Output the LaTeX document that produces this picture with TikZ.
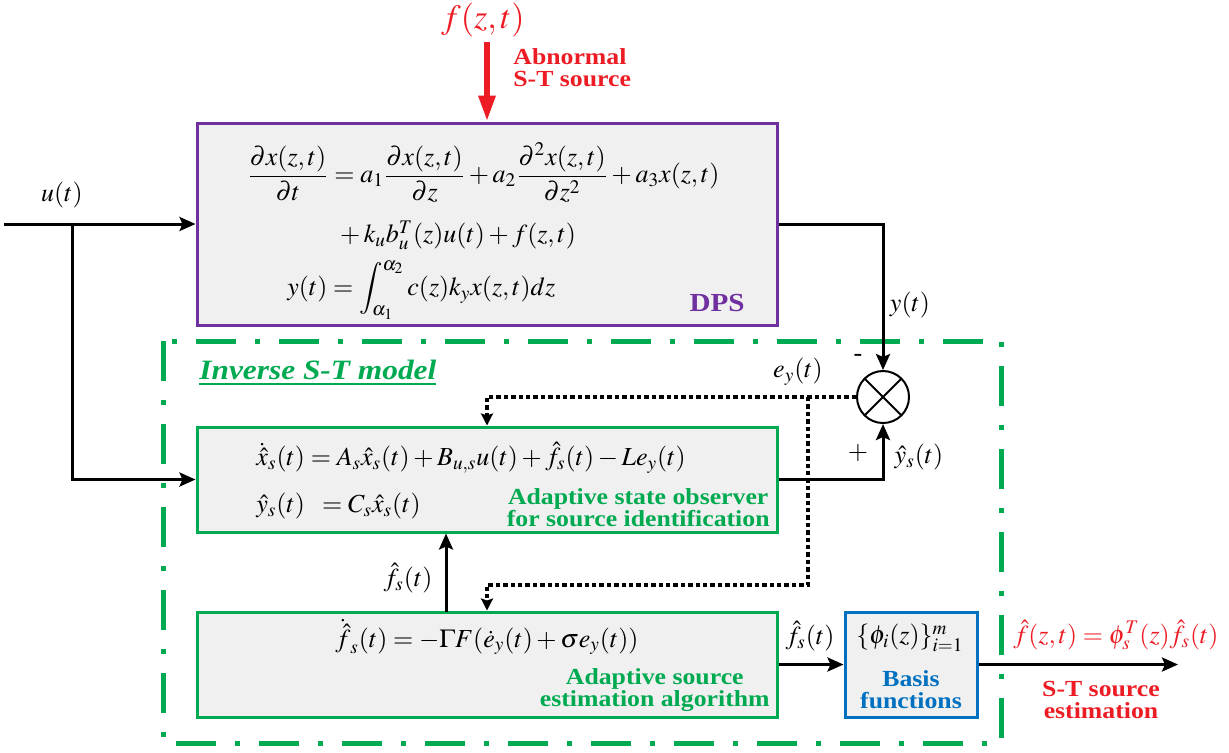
\documentclass[tikz,border=0pt]{standalone}
\usepackage{mathptmx}
\usepackage[no-math]{fontspec}
\setmainfont{Liberation Serif}
\newfontfamily\labelfont[FakeStretch=1.12]{Liberation Serif}
\usetikzlibrary{arrows.meta}
\usetikzlibrary{calc}
\usepackage{xcolor}

\definecolor{dpspurple}{RGB}{112,48,160}
\definecolor{obsgreen}{RGB}{0,170,80}
\definecolor{basisblue}{RGB}{0,112,192}
\definecolor{srcred}{RGB}{237,28,36}
\definecolor{boxgray}{RGB}{240,240,240}

\newcommand{\eqfs}{\fontsize{13}{16}\selectfont}
\newcommand{\labfs}{\labelfont\bfseries\fontsize{11.5}{11}\selectfont}
\newcommand{\topfs}{\fontsize{17}{20}\selectfont}

\begin{document}
\begin{tikzpicture}[x=0.5pt, y=-0.5pt]
        % ================= styles =================
        \tikzset{
            % system blocks
            dpsbox/.style={draw=dpspurple, line width=1.5pt, fill=boxgray, minimum width=290pt, minimum height=101pt, inner sep=0pt},
            obsbox/.style={draw=obsgreen, line width=1.5pt, fill=boxgray, minimum width=290pt, minimum height=52.5pt, inner sep=0pt},
            basisbox/.style={draw=basisblue, line width=1.5pt, fill=boxgray, minimum width=66pt, minimum height=52.5pt, inner sep=0pt},
            % summing junction
            sumnode/.style={circle, draw, line width=1pt, minimum size=26pt, inner sep=0pt,
                path picture={\draw[line width=1pt] (path picture bounding box.north west) -- (path picture bounding box.south east)
                    (path picture bounding box.north east) -- (path picture bounding box.south west);}},
            % dash-dot frame of the inverse model
            modelframe/.style={draw=obsgreen, line width=2.5pt, dash pattern=on 20pt off 9.5pt on 2.5pt off 9.5pt},
            % signals
            sig/.style={line width=1.5pt, -{Stealth[length=8pt, width=7pt, inset=1.5pt]}},
            err/.style={line width=1.6pt, dash pattern=on 2.2pt off 1.5pt, -{Stealth[length=6pt, width=6pt, inset=1pt]}},
            src/.style={draw=srcred, line width=3pt, -{Triangle[length=13pt, width=8pt]}},
            % texts
            eqn/.style={font=\eqfs, inner sep=0pt, anchor=west},
            mlab/.style={font=\eqfs, inner sep=0pt},
            lab/.style={font=\labfs, inner sep=0pt, align=center}
        }
        \useasboundingbox (0,0) rectangle (1229,752);

        % ================= frame of the inverse model =================
        \draw[modelframe] (163,341) rectangle (1001,743);

        % ================= blocks =================
        \node[dpsbox] (dps) at (487,224) {};
        \node[obsbox] (obs) at (487,479.5) {};
        \node[obsbox] (est) at (487,664.5) {};
        \node[basisbox] (basis) at (911,664.5) {};
        \node[sumnode] (sum) at (883,397) {};

        % ================= equations =================
        \node[eqn] (dpseq1) at (247,173) {$\displaystyle \frac{\partial x(z,t)}{\partial t}=a_1\frac{\partial x(z,t)}{\partial z}+a_2\frac{\partial^2 x(z,t)}{\partial z^2}+a_3x(z,t)$};
        \node[eqn] (dpseq2) at (336,235) {${}+k_u b_u^T(z)u(t)+f(z,t)$};
        \node[eqn] (dpseq3) at (287,290) {$\displaystyle y(t)=\int_{\alpha_1}^{\alpha_2}c(z)k_y x(z,t)dz$};

        \node[eqn] (obseq1) at (256,458) {$\dot{\hat x}_s(t)=A_s\hat x_s(t)+B_{u,s}u(t)+\hat f_s(t)-Le_y(t)$};
        \node[eqn] (obseq2) at (256,506) {$\hat y_s(t)\;\;=C_s\hat x_s(t)$};

        \node[mlab] (esteq) at (487,637) {$\dot{\hat f}_s(t)=-\Gamma F(\dot e_y(t)+\sigma e_y(t))$};

        \node[mlab] (philab) at (910,638) {$\{\phi_i(z)\}_{i=1}^m$};

        % ================= block names =================
        \node[lab, text=dpspurple, font=\labelfont\bfseries\fontsize{13}{13}\selectfont, anchor=east] (dpslab) at (745,303) {DPS};
        \node[lab, text=obsgreen, anchor=east] (obslab) at (770,508) {Adaptive state observer\\for source identification};
        \node[lab, text=obsgreen, anchor=east] (estlab) at (770,690) {Adaptive source\\estimation algorithm};
        \node[lab, text=basisblue] (basislab) at (911,690) {Basis\\functions};
        \node[anchor=west, inner sep=0pt, text=obsgreen, font=\labelfont\bfseries\itshape\fontsize{14}{14}\selectfont] (invlab) at (199,373) {\underline{Inverse S-T model}};

        % ================= connectors =================
        \coordinate (uin) at (4,224);
        \coordinate (ubr) at (72,224);
        \coordinate (ebr) at (808,397);
        \coordinate (eturn) at (808,585);
        \coordinate (fhbase) at (446,612);
        \coordinate (fout) at (1178,664.5);
        \coordinate (ftop) at (487,42);

        \draw[sig] (uin) -- (dps.west);
        \draw[sig] (ubr) |- (obs.west);
        \draw[sig] (dps.east) -| (sum.north);
        \draw[sig] (obs.east) -| (sum.south);
        \draw[err] (sum.west) -| (obs.north);
        \draw[err] (ebr) -- (eturn) -| (est.north);
        \draw[sig] (fhbase) -- (fhbase |- obs.south);
        \draw[sig] (est.east) -- (basis.west);
        \draw[sig] (basis.east) -- (fout);
        \draw[src] (ftop) -- (dps.north);

        % ================= signal labels =================
        \node[mlab] (ulab) at (62,195) {$u(t)$};
        \node[mlab] (ylab) at (910,305) {$y(t)$};
        \node[mlab] (minus) at (858,358) {-};
        \node[mlab] (plus) at (858,453) {$+$};
        \node[mlab] (eylab) at (798,372) {$e_y(t)$};
        \node[mlab] (yhlab) at (919,457) {$\hat y_s(t)$};
        \node[mlab] (fhlab1) at (408,578) {$\hat f_s(t)$};
        \node[mlab] (fhlab2) at (810,636) {$\hat f_s(t)$};

        % red source labels
        \node[mlab, text=srcred, font=\topfs] (flab) at (483,20) {$f(z,t)$};
        \node[lab, text=srcred, align=left, anchor=west] (srclab) at (513,68) {Abnormal\\S-T source};
        \node[mlab, text=srcred] (foutlab) at (1116,635) {$\hat f(z,t)=\phi_s^T(z)\hat f_s(t)$};
        \node[lab, text=srcred] (foutname) at (1101,700) {S-T source\\estimation};

    \end{tikzpicture}
\end{document}
